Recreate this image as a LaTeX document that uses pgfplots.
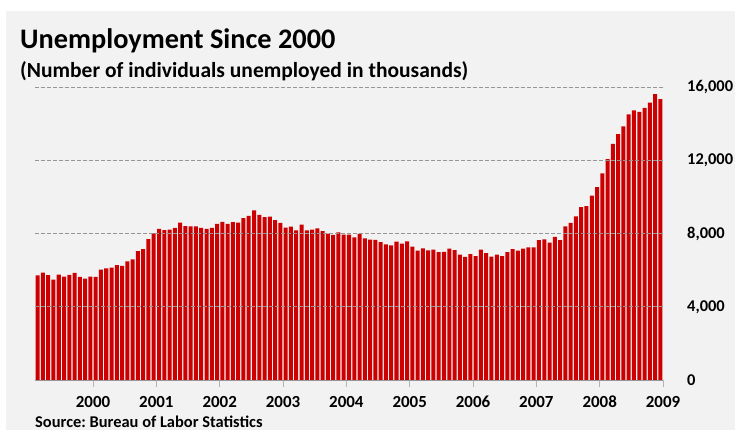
\documentclass[border=0pt]{standalone}
\usepackage{pgfplots}
\pgfplotsset{compat=1.18}
\usepackage{pgfplotstable}
\usepackage{fontspec}
\setmainfont{Carlito}
\frenchspacing
\definecolor{barred}{RGB}{204,0,0}
\definecolor{panel}{RGB}{242,242,242}
\definecolor{gridgray}{RGB}{150,150,150}

\pgfplotstableread{
x y
0 5708
1 5858
2 5733
3 5481
4 5758
5 5651
6 5747
7 5853
8 5625
9 5534
10 5639
11 5634
12 6023
13 6089
14 6141
15 6271
16 6226
17 6484
18 6583
19 7042
20 7142
21 7694
22 8003
23 8258
24 8182
25 8215
26 8304
27 8599
28 8399
29 8393
30 8390
31 8304
32 8251
33 8307
34 8520
35 8640
36 8520
37 8618
38 8588
39 8842
40 8957
41 9266
42 9011
43 8896
44 8921
45 8732
46 8576
47 8317
48 8370
49 8167
50 8491
51 8170
52 8212
53 8286
54 8136
55 7990
56 7927
57 8061
58 7932
59 7934
60 7784
61 7980
62 7737
63 7672
64 7651
65 7524
66 7406
67 7345
68 7553
69 7453
70 7566
71 7279
72 7064
73 7184
74 7072
75 7120
76 6980
77 7001
78 7175
79 7091
80 6847
81 6727
82 6872
83 6762
84 7116
85 6927
86 6731
87 6850
88 6766
89 6979
90 7149
91 7067
92 7170
93 7237
94 7240
95 7645
96 7685
97 7497
98 7822
99 7637
100 8395
101 8575
102 8937
103 9438
104 9494
105 10074
106 10538
107 11286
108 12058
109 12898
110 13426
111 13853
112 14499
113 14729
114 14646
115 14861
116 15142
117 15612
118 15340
}\unemp

\begin{document}
\begin{tikzpicture}
\path[use as bounding box] (0bp,0bp) rectangle (735bp,430bp);
\clip (0bp,0bp) rectangle (735bp,430bp);
\fill[white] (0bp,0bp) rectangle (735bp,430bp);
\fill[panel] (6bp,0bp) rectangle (735bp,419bp);
\node[anchor=base west, inner sep=0pt, font=\bfseries\fontsize{28.4}{32}\selectfont] at (20bp,381bp) {Unemployment Since 2000};
\node[anchor=base west, inner sep=0pt, font=\bfseries\fontsize{21.6}{25}\selectfont] at (20bp,352bp) {(Number of individuals unemployed in thousands)};
\begin{axis}[
  at={(35bp,50bp)}, anchor=south west,
  scale only axis, width=628bp, height=293bp,
  xmin=-0.5, xmax=118.5, ymin=0, ymax=16000,
  ybar, bar width=0.76,
  axis on top,
  separate axis lines,
  axis x line*=bottom,
  axis y line*=right,
  y axis line style={draw=none},
  x axis line style={draw=gridgray, line width=0.8pt},
  ytick={0,4000,8000,12000,16000},
  ytick style={draw=none},
  ymajorgrids,
  major grid style={draw=gridgray, line width=0.6pt, dash pattern=on 4bp off 2bp},
  xtick={10.5,22.5,...,118.5},
  xticklabels={2000,2001,2002,2003,2004,2005,2006,2007,2008,2009},
  xtick style={draw=gridgray!70, line width=0.8pt},
  tick align=outside,
  major tick length=7bp,
  scaled y ticks=false,
  /pgf/number format/.cd, 1000 sep={,}, assume math mode=true,
  /pgfplots/.cd,
  tick label style={font=\bfseries\fontsize{17}{18}\selectfont},
  yticklabel style={anchor=west, inner sep=0pt, xshift=17bp, font=\bfseries\fontsize{16.5}{18}\selectfont},
  xticklabel style={inner sep=0pt, yshift=-9bp},
]
\addplot[fill=barred, draw=none] table[x=x, y=y] {\unemp};
\end{axis}
\node[anchor=base west, inner sep=0pt, font=\bfseries\fontsize{16.5}{18}\selectfont] at (35bp,3bp) {Source: Bureau of Labor Statistics};
\end{tikzpicture}
\end{document}
